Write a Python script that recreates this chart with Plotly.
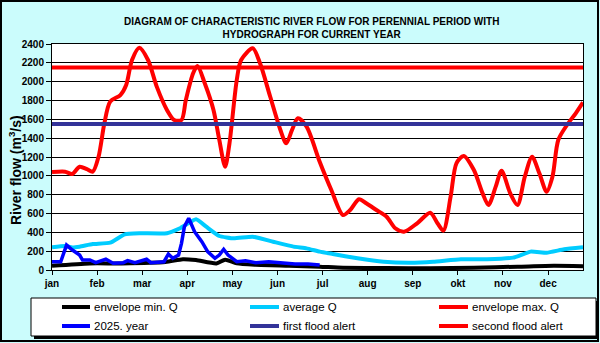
import plotly.graph_objects as go

# ---------------- data (day of year, flow m3/s) ----------------
month_labels = ["jan", "feb", "mar", "apr", "may", "jun", "jul", "aug", "sep", "okt", "nov", "dec"]
month_ticks = [0, 31, 62, 93, 124, 155, 186, 217, 248, 279, 310, 341]

min_days = [0, 26, 48, 78, 90, 99, 113, 119, 127, 140, 163, 184, 200, 230, 260, 290, 320, 345, 365]
min_vals = [45, 70, 70, 85, 115, 105, 70, 110, 70, 55, 45, 35, 25, 20, 18, 25, 35, 45, 40]

avg_days = [0, 9, 14, 19, 28, 40, 50, 60, 79, 88, 99, 106, 115, 125, 138, 152, 166, 175, 184,
            193, 210, 228, 246, 262, 281, 299, 317, 329, 340, 352, 365]
avg_vals = [241, 255, 240, 248, 275, 290, 379, 390, 390, 443, 538, 460, 361, 336, 354, 300, 248,
            230, 195, 170, 124, 88, 78, 88, 114, 114, 131, 195, 184, 220, 241]

max_days = [0, 9, 14, 19, 24, 28, 32, 36, 40, 47, 51, 55, 60, 66, 72, 79, 84, 89, 92, 97, 100,
            105, 111, 115, 119, 122, 127, 130, 138, 143, 150, 157, 161, 165, 169, 175, 184, 192,
            200, 205, 211, 216, 223, 230, 236, 242, 251, 260, 265, 269, 274, 278, 283, 290, 296,
            300, 305, 309, 315, 320, 325, 330, 335, 340, 344, 348, 354, 360, 365]
max_vals = [1040, 1044, 1020, 1097, 1070, 1044, 1203, 1558, 1788, 1858, 1965, 2230, 2360, 2230,
            1947, 1700, 1593, 1593, 1805, 2089, 2166, 1983, 1700, 1381, 1097, 1345, 2018, 2230,
            2354, 2195, 1840, 1487, 1345, 1487, 1611, 1522, 1150, 850, 584, 637, 751, 708, 637,
            566, 443, 407, 496, 609, 496, 418, 778, 1133, 1211, 1062, 814, 690, 885, 1055, 814,
            690, 991, 1203, 1027, 832, 991, 1381, 1540, 1664, 1780]

cur_days = [0, 6, 10, 14, 19, 21, 26, 30, 37, 42, 49, 52, 57, 65, 68, 77, 80, 83, 87, 89, 91,
            94, 98, 103, 107, 112, 115, 118, 121, 127, 133, 140, 149, 156, 167, 176, 184]
cur_vals = [88, 88, 265, 212, 159, 106, 106, 78, 114, 71, 78, 99, 78, 114, 78, 88, 170, 124, 159,
            283, 460, 549, 407, 301, 195, 124, 159, 220, 159, 88, 99, 78, 88, 78, 64, 64, 53]

first_alert = 1550
second_alert = 2150

series_names = ["envelope min. Q", "average Q", "envelope max. Q",
                "2025. year", "first flood alert", "second flood alert"]
series_colors = ["#000000", "#00ccff", "#ff0000", "#0000ff", "#333399", "#ff0000"]

FONT = "Liberation Sans, Arial, sans-serif"

fig = go.Figure()
fig.add_trace(go.Scatter(x=min_days, y=min_vals, mode="lines", name=series_names[0],
                         line=dict(color=series_colors[0], width=4, shape="spline", smoothing=0.6)))
fig.add_trace(go.Scatter(x=avg_days, y=avg_vals, mode="lines", name=series_names[1],
                         line=dict(color=series_colors[1], width=4, shape="spline", smoothing=0.4)))
fig.add_trace(go.Scatter(x=max_days, y=max_vals, mode="lines", name=series_names[2],
                         line=dict(color=series_colors[2], width=4, shape="spline", smoothing=0.8)))
fig.add_trace(go.Scatter(x=cur_days, y=cur_vals, mode="lines", name=series_names[3],
                         line=dict(color=series_colors[3], width=3.5)))
fig.add_trace(go.Scatter(x=[0, 365], y=[first_alert, first_alert], mode="lines", name=series_names[4],
                         line=dict(color=series_colors[4], width=4)))
fig.add_trace(go.Scatter(x=[0, 365], y=[second_alert, second_alert], mode="lines", name=series_names[5],
                         line=dict(color=series_colors[5], width=4)))

# layout geometry helpers (pixel -> paper)
W, H = 600, 343
L, R, T, B = 52, 17, 44, 73
PW, PH = W - L - R, H - T - B


def xp(px):
    return (px - L) / PW


def yp(py):
    return (H - B - py) / PH


shapes = []
# outer chart frame
shapes.append(dict(type="rect", xref="paper", yref="paper", x0=xp(1), x1=xp(598), y0=yp(1), y1=yp(341),
                   line=dict(color="black", width=2), fillcolor="rgba(0,0,0,0)", layer="below"))
# legend box shadow + box
shapes.append(dict(type="rect", xref="paper", yref="paper", x0=xp(34), x1=xp(599), y0=yp(301), y1=yp(339),
                   line=dict(width=0), fillcolor="black"))
shapes.append(dict(type="rect", xref="paper", yref="paper", x0=xp(31), x1=xp(596), y0=yp(298), y1=yp(336),
                   line=dict(color="black", width=1), fillcolor="white"))

annotations = []
leg_cols = [(62, 90, 92), (250, 279, 281), (439, 468, 470)]
leg_rows = [307, 326]
for i, name in enumerate(series_names):
    r, c = divmod(i, 3)
    x0, x1, xt = leg_cols[c]
    y = leg_rows[r]
    shapes.append(dict(type="line", xref="paper", yref="paper", x0=xp(x0), x1=xp(x1), y0=yp(y), y1=yp(y),
                       line=dict(color=series_colors[i], width=4)))
    annotations.append(dict(text=name, xref="paper", yref="paper", x=xp(xt), y=yp(y),
                            xanchor="left", yanchor="middle", showarrow=False,
                            font=dict(family=FONT, size=11.5, color="black")))

# title
annotations.append(dict(text="DIAGRAM OF CHARACTERISTIC RIVER FLOW FOR PERENNIAL PERIOD WITH<br>HYDROGRAPH FOR CURRENT YEAR",
                        xref="paper", yref="paper", x=xp(311), y=yp(14), xanchor="center", yanchor="top",
                        showarrow=False, align="center",
                        font=dict(family=FONT, size=10, color="black", weight="bold")))
# y-axis title
annotations.append(dict(text="River flow (m<sup>3</sup>/s)", xref="paper", yref="paper",
                        x=xp(15), y=yp(170), xanchor="center", yanchor="middle", textangle=-90,
                        showarrow=False,
                        font=dict(family=FONT, size=14, color="black", weight="bold")))

fig.update_layout(
    width=W, height=H,
    margin=dict(l=L, r=R, t=T, b=B, pad=0),
    paper_bgcolor="#cbfcfc",
    plot_bgcolor="white",
    showlegend=False,
    shapes=shapes,
    annotations=annotations,
    font=dict(family=FONT, color="black"),
)
fig.update_xaxes(range=[0, 365], tickmode="array", tickvals=month_ticks, ticktext=month_labels,
                 ticks="outside", ticklen=4, tickcolor="black", showgrid=False, zeroline=False,
                 showline=True, linecolor="black", linewidth=1, mirror=True,
                 tickfont=dict(family=FONT, size=10, color="black", weight="bold"))
fig.update_yaxes(range=[0, 2400], dtick=200, ticks="outside", ticklen=5, tickcolor="black",
                 showgrid=True, gridcolor="black", gridwidth=1, zeroline=False,
                 showline=True, linecolor="black", linewidth=1, mirror=True,
                 tickfont=dict(family=FONT, size=10, color="black", weight="bold"))

fig.write_html("out.html")
